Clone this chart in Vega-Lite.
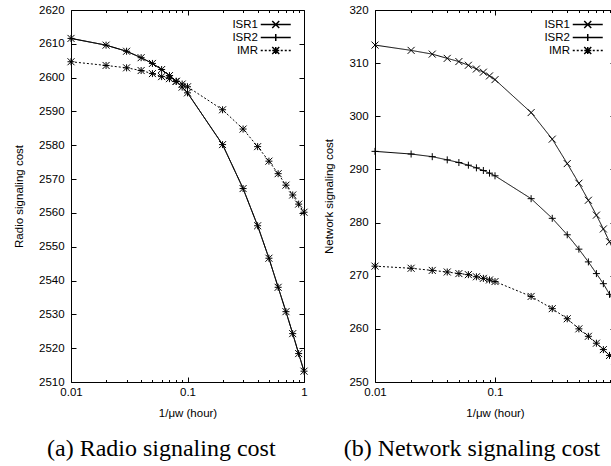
{
  "$schema": "https://vega.github.io/schema/vega-lite/v6.json",
  "padding": {"left": 12, "top": 3, "right": 0, "bottom": 0},
  "spacing": 12,
  "background": "white",
  "resolve": {"scale": {"shape": "independent"}, "legend": {"shape": "independent"}},
  "config": {
    "view": {"stroke": "black", "strokeWidth": 1},
    "font": "Liberation Sans",
    "axis": {
      "grid": false,
      "domain": false,
      "labelFont": "Liberation Sans",
      "labelFontSize": 11.5,
      "labelColor": "black",
      "titleFont": "Liberation Sans",
      "titleFontSize": 11.5,
      "titleFontWeight": "normal",
      "titleColor": "black",
      "tickColor": "black",
      "tickWidth": 1,
      "labelFlush": false,
      "labelOverlap": false
    },
    "legend": {
      "labelFont": "Liberation Sans",
      "labelFontSize": 11.5,
      "labelColor": "black"
    }
  },
  "datasets": {
    "radio": [
      {"x": 0.01, "series": "ISR1", "y": 2611.6}, {"x": 0.02, "series": "ISR1", "y": 2609.6}, {"x": 0.03, "series": "ISR1", "y": 2607.8}, {"x": 0.04, "series": "ISR1", "y": 2605.9}, {"x": 0.05, "series": "ISR1", "y": 2604.2}, {"x": 0.06, "series": "ISR1", "y": 2602.4}, {"x": 0.07, "series": "ISR1", "y": 2600.6}, {"x": 0.08, "series": "ISR1", "y": 2598.9}, {"x": 0.09, "series": "ISR1", "y": 2597.2}, {"x": 0.1, "series": "ISR1", "y": 2595.5},
      {"x": 0.2, "series": "ISR1", "y": 2580.2}, {"x": 0.3, "series": "ISR1", "y": 2567.2}, {"x": 0.4, "series": "ISR1", "y": 2556.2}, {"x": 0.5, "series": "ISR1", "y": 2546.6}, {"x": 0.6, "series": "ISR1", "y": 2538.0}, {"x": 0.7, "series": "ISR1", "y": 2530.8}, {"x": 0.8, "series": "ISR1", "y": 2524.3}, {"x": 0.9, "series": "ISR1", "y": 2518.4}, {"x": 1.0, "series": "ISR1", "y": 2513.2},
      {"x": 0.01, "series": "ISR2", "y": 2611.6}, {"x": 0.02, "series": "ISR2", "y": 2609.6}, {"x": 0.03, "series": "ISR2", "y": 2607.8}, {"x": 0.04, "series": "ISR2", "y": 2605.9}, {"x": 0.05, "series": "ISR2", "y": 2604.2}, {"x": 0.06, "series": "ISR2", "y": 2602.4}, {"x": 0.07, "series": "ISR2", "y": 2600.6}, {"x": 0.08, "series": "ISR2", "y": 2598.9}, {"x": 0.09, "series": "ISR2", "y": 2597.2}, {"x": 0.1, "series": "ISR2", "y": 2595.5},
      {"x": 0.2, "series": "ISR2", "y": 2580.2}, {"x": 0.3, "series": "ISR2", "y": 2567.2}, {"x": 0.4, "series": "ISR2", "y": 2556.2}, {"x": 0.5, "series": "ISR2", "y": 2546.6}, {"x": 0.6, "series": "ISR2", "y": 2538.0}, {"x": 0.7, "series": "ISR2", "y": 2530.8}, {"x": 0.8, "series": "ISR2", "y": 2524.3}, {"x": 0.9, "series": "ISR2", "y": 2518.4}, {"x": 1.0, "series": "ISR2", "y": 2513.2},
      {"x": 0.01, "series": "IMR", "y": 2604.7}, {"x": 0.02, "series": "IMR", "y": 2603.6}, {"x": 0.03, "series": "IMR", "y": 2602.9}, {"x": 0.04, "series": "IMR", "y": 2602.1}, {"x": 0.05, "series": "IMR", "y": 2601.2}, {"x": 0.06, "series": "IMR", "y": 2600.3}, {"x": 0.07, "series": "IMR", "y": 2599.7}, {"x": 0.08, "series": "IMR", "y": 2598.9}, {"x": 0.09, "series": "IMR", "y": 2598.1}, {"x": 0.1, "series": "IMR", "y": 2597.3},
      {"x": 0.2, "series": "IMR", "y": 2590.5}, {"x": 0.3, "series": "IMR", "y": 2584.8}, {"x": 0.4, "series": "IMR", "y": 2579.6}, {"x": 0.5, "series": "IMR", "y": 2575.3}, {"x": 0.6, "series": "IMR", "y": 2571.6}, {"x": 0.7, "series": "IMR", "y": 2568.2}, {"x": 0.8, "series": "IMR", "y": 2565.3}, {"x": 0.9, "series": "IMR", "y": 2562.6}, {"x": 1.0, "series": "IMR", "y": 2560.2}
    ],
    "network": [
      {"x": 0.01, "series": "ISR1", "y": 313.4}, {"x": 0.02, "series": "ISR1", "y": 312.4}, {"x": 0.03, "series": "ISR1", "y": 311.7}, {"x": 0.04, "series": "ISR1", "y": 310.9}, {"x": 0.05, "series": "ISR1", "y": 310.3}, {"x": 0.06, "series": "ISR1", "y": 309.6}, {"x": 0.07, "series": "ISR1", "y": 308.9}, {"x": 0.08, "series": "ISR1", "y": 308.3}, {"x": 0.09, "series": "ISR1", "y": 307.6}, {"x": 0.1, "series": "ISR1", "y": 306.9},
      {"x": 0.2, "series": "ISR1", "y": 300.7}, {"x": 0.3, "series": "ISR1", "y": 295.7}, {"x": 0.4, "series": "ISR1", "y": 291.1}, {"x": 0.5, "series": "ISR1", "y": 287.4}, {"x": 0.6, "series": "ISR1", "y": 284.2}, {"x": 0.7, "series": "ISR1", "y": 281.4}, {"x": 0.8, "series": "ISR1", "y": 278.8}, {"x": 0.9, "series": "ISR1", "y": 276.4}, {"x": 1.0, "series": "ISR1", "y": 274.2},
      {"x": 0.01, "series": "ISR2", "y": 293.4}, {"x": 0.02, "series": "ISR2", "y": 292.9}, {"x": 0.03, "series": "ISR2", "y": 292.4}, {"x": 0.04, "series": "ISR2", "y": 291.8}, {"x": 0.05, "series": "ISR2", "y": 291.3}, {"x": 0.06, "series": "ISR2", "y": 290.8}, {"x": 0.07, "series": "ISR2", "y": 290.3}, {"x": 0.08, "series": "ISR2", "y": 289.8}, {"x": 0.09, "series": "ISR2", "y": 289.3}, {"x": 0.1, "series": "ISR2", "y": 288.8},
      {"x": 0.2, "series": "ISR2", "y": 284.5}, {"x": 0.3, "series": "ISR2", "y": 280.8}, {"x": 0.4, "series": "ISR2", "y": 277.7}, {"x": 0.5, "series": "ISR2", "y": 275.0}, {"x": 0.6, "series": "ISR2", "y": 272.6}, {"x": 0.7, "series": "ISR2", "y": 270.4}, {"x": 0.8, "series": "ISR2", "y": 268.5}, {"x": 0.9, "series": "ISR2", "y": 266.5}, {"x": 1.0, "series": "ISR2", "y": 264.7},
      {"x": 0.01, "series": "IMR", "y": 271.8}, {"x": 0.02, "series": "IMR", "y": 271.4}, {"x": 0.03, "series": "IMR", "y": 271.0}, {"x": 0.04, "series": "IMR", "y": 270.7}, {"x": 0.05, "series": "IMR", "y": 270.4}, {"x": 0.06, "series": "IMR", "y": 270.2}, {"x": 0.07, "series": "IMR", "y": 269.8}, {"x": 0.08, "series": "IMR", "y": 269.5}, {"x": 0.09, "series": "IMR", "y": 269.2}, {"x": 0.1, "series": "IMR", "y": 268.9},
      {"x": 0.2, "series": "IMR", "y": 266.1}, {"x": 0.3, "series": "IMR", "y": 263.8}, {"x": 0.4, "series": "IMR", "y": 261.9}, {"x": 0.5, "series": "IMR", "y": 260.0}, {"x": 0.6, "series": "IMR", "y": 258.6}, {"x": 0.7, "series": "IMR", "y": 257.3}, {"x": 0.8, "series": "IMR", "y": 256.1}, {"x": 0.9, "series": "IMR", "y": 255.0}, {"x": 1.0, "series": "IMR", "y": 254.0}
    ]
  },
  "hconcat": [
    {
      "width": 233,
      "height": 372,
      "title": {"text": "(a) Radio signaling cost", "orient": "bottom", "anchor": "middle", "frame": "bounds", "font": "Liberation Serif", "fontSize": 24, "fontWeight": "normal", "color": "black", "offset": 17.5},
      "data": {"name": "radio"},
      "layer": [
        {
          "mark": {"type": "line", "color": "black", "strokeWidth": 1},
          "encoding": {
            "x": {"field": "x", "type": "quantitative", "scale": {"type": "log", "domain": [0.01, 1]},
              "axis": {"orient": "bottom", "title": "1/μw (hour)", "values": [0.01,0.02,0.03,0.04,0.05,0.06,0.07,0.08,0.09,0.1,0.2,0.3,0.4,0.5,0.6,0.7,0.8,0.9,1],
                "labelExpr": "datum.value == 0.01 ? '0.01' : datum.value == 0.1 ? '0.1' : datum.value == 1 ? '1' : ''",
                "tickSize": {"condition": {"test": "datum.value == 0.01 || datum.value == 0.1 || datum.value == 1", "value": -5}, "value": -2.5},
                "labelPadding": 9.3, "titlePadding": 7.5}},
            "y": {"field": "y", "type": "quantitative", "scale": {"domain": [2510, 2620], "zero": false},
              "axis": {"orient": "left", "title": "Radio signaling cost", "format": "d", "values": [2510,2520,2530,2540,2550,2560,2570,2580,2590,2600,2610,2620], "tickSize": -5, "labelPadding": 11.9, "titlePadding": 14.4}},
            "detail": {"field": "series"},
            "strokeDash": {"condition": {"test": "datum.series == 'IMR'", "value": [2, 2]}, "value": [1, 0]}
          }
        },
        {
          "mark": {"type": "point", "filled": false, "color": "black", "strokeWidth": 1, "size": 49, "opacity": 1},
          "encoding": {
            "x": {"field": "x", "type": "quantitative",
              "axis": {"orient": "top", "title": null, "labels": false, "values": [0.01,0.02,0.03,0.04,0.05,0.06,0.07,0.08,0.09,0.1,0.2,0.3,0.4,0.5,0.6,0.7,0.8,0.9,1],
                "tickSize": {"condition": {"test": "datum.value == 0.01 || datum.value == 0.1 || datum.value == 1", "value": -5}, "value": -2.5}}},
            "y": {"field": "y", "type": "quantitative",
              "axis": {"orient": "right", "title": null, "labels": false, "values": [2510,2520,2530,2540,2550,2560,2570,2580,2590,2600,2610,2620], "tickSize": -5}},
            "shape": {"condition": [{"test": "datum.series == 'ISR1'", "value": "M-1,-1L1,1M-1,1L1,-1"}, {"test": "datum.series == 'ISR2'", "value": "M-1,0H1M0,-1V1"}], "value": "M-1,0H1M0,-1V1M-1,-1L1,1M-1,1L1,-1"}
          }
        },
        {
          "transform": [{"filter": "false"}],
          "mark": {"type": "point", "filled": false, "color": "black", "strokeWidth": 1, "size": 64, "opacity": 1},
          "encoding": {
            "shape": {"field": "series",
              "scale": {"domain": ["ISR1", "ISR2", "IMR"], "range": [
                "M-3.75,0H3.75M-0.875,-0.875L0.875,0.875M-0.875,0.875L0.875,-0.875",
                "M-3.75,0H3.75M0,-0.875V0.875",
                "M-3.75,0H-3.25M-2.75,0H-2.25M-1.75,0H-1.25M1.25,0H1.75M2.25,0H2.75M3.25,0H3.75M-0.875,0H0.875M0,-0.875V0.875M-0.875,-0.875L0.875,0.875M-0.875,0.875L0.875,-0.875"]},
              "legend": {"title": null, "orient": "none", "legendX": 199, "legendY": 8.8, "padding": 0, "labelAlign": "right", "labelOffset": -23.5, "symbolSize": 64, "rowPadding": -5}
            }
          }
        }
      ],
      "resolve": {"axis": {"x": "independent", "y": "independent"}}
    },
    {
      "width": 240,
      "height": 372,
      "title": {"text": "(b) Network signaling cost", "orient": "bottom", "anchor": "middle", "frame": "bounds", "font": "Liberation Serif", "fontSize": 24, "fontWeight": "normal", "color": "black", "offset": 17.5},
      "data": {"name": "network"},
      "layer": [
        {
          "mark": {"type": "line", "color": "black", "strokeWidth": 1},
          "encoding": {
            "x": {"field": "x", "type": "quantitative", "scale": {"type": "log", "domain": [0.01, 1]},
              "axis": {"orient": "bottom", "title": "1/μw (hour)", "values": [0.01,0.02,0.03,0.04,0.05,0.06,0.07,0.08,0.09,0.1,0.2,0.3,0.4,0.5,0.6,0.7,0.8,0.9,1],
                "labelExpr": "datum.value == 0.01 ? '0.01' : datum.value == 0.1 ? '0.1' : datum.value == 1 ? '1' : ''",
                "tickSize": {"condition": {"test": "datum.value == 0.01 || datum.value == 0.1 || datum.value == 1", "value": -5}, "value": -2.5},
                "labelPadding": 9.3, "titlePadding": 7.5}},
            "y": {"field": "y", "type": "quantitative", "scale": {"domain": [250, 320], "zero": false},
              "axis": {"orient": "left", "title": "Network signaling cost", "format": "d", "values": [250,260,270,280,290,300,310,320], "tickSize": -5, "labelPadding": 11.9, "titlePadding": 14.5}},
            "detail": {"field": "series"},
            "strokeDash": {"condition": {"test": "datum.series == 'IMR'", "value": [2, 2]}, "value": [1, 0]}
          }
        },
        {
          "mark": {"type": "point", "filled": false, "color": "black", "strokeWidth": 1, "size": 49, "opacity": 1},
          "encoding": {
            "x": {"field": "x", "type": "quantitative",
              "axis": {"orient": "top", "title": null, "labels": false, "values": [0.01,0.02,0.03,0.04,0.05,0.06,0.07,0.08,0.09,0.1,0.2,0.3,0.4,0.5,0.6,0.7,0.8,0.9,1],
                "tickSize": {"condition": {"test": "datum.value == 0.01 || datum.value == 0.1 || datum.value == 1", "value": -5}, "value": -2.5}}},
            "y": {"field": "y", "type": "quantitative",
              "axis": {"orient": "right", "title": null, "labels": false, "values": [250,260,270,280,290,300,310,320], "tickSize": -5}},
            "shape": {"condition": [{"test": "datum.series == 'ISR1'", "value": "M-1,-1L1,1M-1,1L1,-1"}, {"test": "datum.series == 'ISR2'", "value": "M-1,0H1M0,-1V1"}], "value": "M-1,0H1M0,-1V1M-1,-1L1,1M-1,1L1,-1"}
          }
        },
        {
          "transform": [{"filter": "false"}],
          "mark": {"type": "point", "filled": false, "color": "black", "strokeWidth": 1, "size": 64, "opacity": 1},
          "encoding": {
            "shape": {"field": "series",
              "scale": {"domain": ["ISR1", "ISR2", "IMR"], "range": [
                "M-3.75,0H3.75M-0.875,-0.875L0.875,0.875M-0.875,0.875L0.875,-0.875",
                "M-3.75,0H3.75M0,-0.875V0.875",
                "M-3.75,0H-3.25M-2.75,0H-2.25M-1.75,0H-1.25M1.25,0H1.75M2.25,0H2.75M3.25,0H3.75M-0.875,0H0.875M0,-0.875V0.875M-0.875,-0.875L0.875,0.875M-0.875,0.875L0.875,-0.875"]},
              "legend": {"title": null, "orient": "none", "legendX": 207, "legendY": 8.8, "padding": 0, "labelAlign": "right", "labelOffset": -23.5, "symbolSize": 64, "rowPadding": -5}
            }
          }
        }
      ],
      "resolve": {"axis": {"x": "independent", "y": "independent"}}
    }
  ]
}
